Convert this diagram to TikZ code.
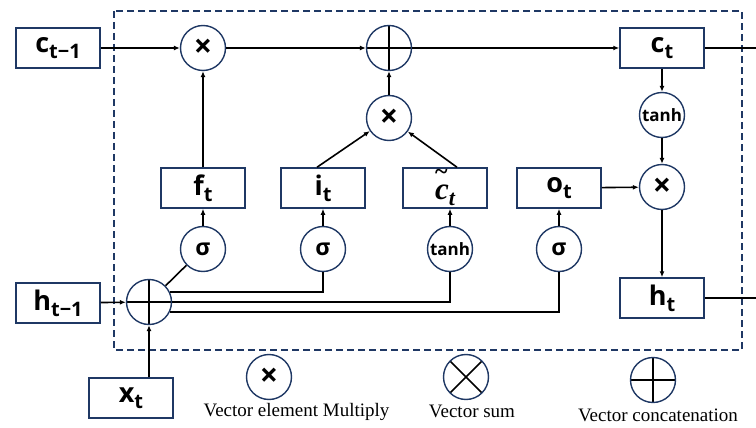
\documentclass[tikz,border=0pt]{standalone}
\usepackage{fontspec}
\setmainfont{Liberation Serif}
\newfontfamily\gatefont{Open Sans}
\usetikzlibrary{arrows.meta,calc}
\definecolor{cellnavy}{RGB}{31,56,100}

\newcommand{\vlbl}[2]{{\gatefont\bfseries\fontsize{27}{27}\selectfont #1\raisebox{-6pt}{\fontsize{20}{20}\selectfont #2}}}

\begin{document}
\begin{tikzpicture}[x=1pt,y=-1pt,
    gate/.style={draw=cellnavy,line width=1.5pt,minimum width=84pt,minimum height=40pt,inner sep=0pt},
    op/.style={circle,draw=cellnavy,line width=1.4pt,minimum size=45pt,inner sep=0pt},
    actfn/.style={op,font=\gatefont\bfseries\fontsize{17}{17}\selectfont},
    sig/.style={op,font=\gatefont\bfseries\fontsize{23}{23}\selectfont},
    mul/.style={op,font=\gatefont\bfseries\fontsize{32}{32}\selectfont},
    concat/.style={op,path picture={\draw[black,line width=1.5pt]
        (path picture bounding box.north) -- (path picture bounding box.south)
        (path picture bounding box.west) -- (path picture bounding box.east);}},
    vsum/.style={op,path picture={\draw[black,line width=1.5pt]
        (path picture bounding box.north west) -- (path picture bounding box.south east)
        (path picture bounding box.north east) -- (path picture bounding box.south west);}},
    flow/.style={-{Latex[length=6pt,width=5pt]},line width=1.6pt},
    wire/.style={line width=1.6pt},
    legtxt/.style={font=\fontsize{19}{19}\selectfont}]
  \useasboundingbox (0,0) rectangle (756,428);

  %% LSTM cell frame
  \draw[cellnavy,line width=1.6pt,dash pattern=on 7pt off 4pt] (114,11) rectangle (742,350);

  %% inputs and states
  \node[gate] (cprev) at (58,48) {\vlbl{c}{t−1}};
  \node[gate] (hprev) at (58,303) {\vlbl{h}{t−1}};
  \node[gate] (xt) at (131,398) {\vlbl{x}{t}};
  \node[gate] (ct) at (662,48) {\vlbl{c}{t}};
  \node[gate] (ht) at (662,298) {\vlbl{h}{t}};

  %% gate outputs
  \node[gate] (ft) at (203,188) {\vlbl{f}{t}};
  \node[gate] (it) at (323,188) {\vlbl{i}{t}};
  \node[gate] (cand) at (445,188) {\fontsize{31}{31}\selectfont\bfseries\itshape
        \makebox[0pt][l]{\raisebox{20pt}{\upshape\fontsize{24}{24}\selectfont\textasciitilde}}c\raisebox{-6pt}{\fontsize{22}{22}\selectfont t}};
  \node[gate] (ot) at (559,188) {\vlbl{o}{t}};

  %% activations
  \node[sig] (sf) at (203,249) {σ};
  \node[sig] (si) at (323,249) {σ};
  \node[actfn] (sc) at (450,249) {tanh};
  \node[sig] (so) at (559,249) {σ};
  \node[actfn] (tanhc) at (662,115) {tanh};

  %% pointwise operations
  \node[concat] (cat) at (149,302) {};
  \node[mul] (mulf) at (203,48) {×};
  \node[concat] (addc) at (389,48) {};
  \node[mul] (muli) at (389,118) {×};
  \node[mul] (mulo) at (662,187) {×};

  \coordinate (cout) at (756,48);
  \coordinate (hout) at (756,298);

  %% cell state path
  \draw[flow] (cprev) -- (mulf);
  \draw[flow] (ft) -- (mulf);
  \draw[flow] (mulf) -- (addc);
  \draw[flow] ($(it.north)+(-6,0)$) -- (muli);
  \draw[flow] ($(cand.north)+(12,0)$) -- (muli);
  \draw[flow] (muli) -- (addc);
  \draw[flow] (addc) -- (ct);
  \draw[wire] (ct) -- (cout);

  %% output path
  \draw[flow] (ct) -- (tanhc);
  \draw[flow] (tanhc) -- (mulo);
  \draw[flow] (ot) -- (mulo);
  \draw[flow] (mulo) -- (ht);
  \draw[wire] (ht) -- (hout);

  %% concatenated input to the gates
  \draw[flow] (hprev) -- (cat);
  \draw[flow] (xt.north -| cat) -- (cat);
  \draw[wire] (cat) -- (sf);
  \draw[wire] (cat.26) -| (si.south);
  \draw[wire] (cat.east) -| (sc.south);
  \draw[wire] (cat.-26) -| (so.south);
  \draw[flow] (sf) -- (ft);
  \draw[flow] (si) -- (it);
  \draw[flow] (sc) -- (sc |- cand.south);
  \draw[flow] (so) -- (ot);

  %% legend
  \node[mul] (legmul) at (269,377) {×};
  \node[vsum] (legsum) at (466,377) {};
  \node[concat] (legcat) at (653,380) {};
  \node[legtxt] (legmultxt) at (296.5,412) {Vector element Multiply};
  \node[legtxt] (legsumtxt) at (472,411.5) {Vector sum};
  \node[legtxt] (legcattxt) at (658,415) {Vector concatenation};
\end{tikzpicture}
\end{document}
